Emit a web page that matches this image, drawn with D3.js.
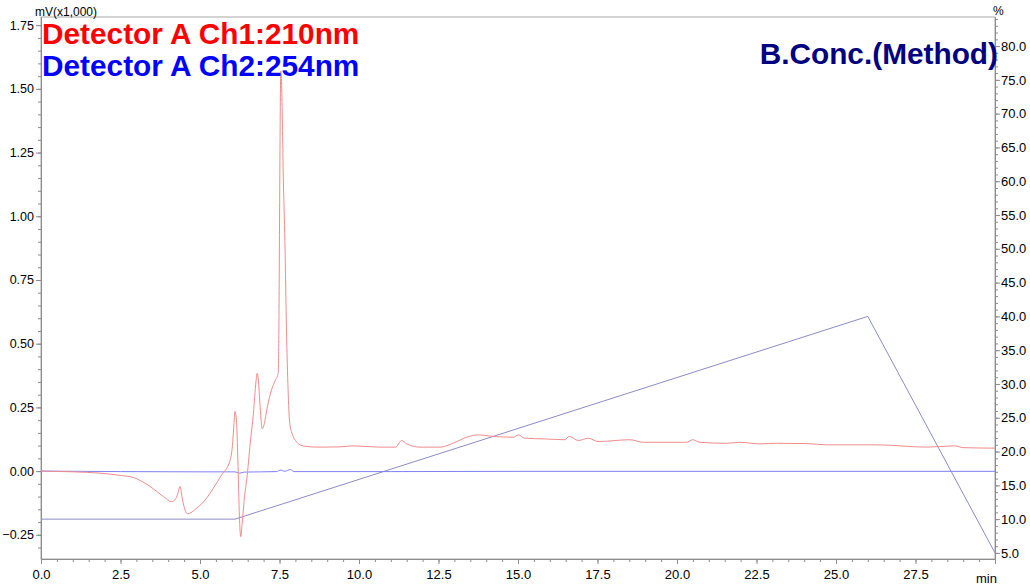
<!DOCTYPE html>
<html>
<head>
<meta charset="utf-8">
<script src="https://cdn.jsdelivr.net/npm/d3@7"></script>
<style>
    html, body { margin: 0; padding: 0; background: #fff; }
    svg { display: block; font-family: 'Liberation Sans', Arial, sans-serif; }
    .axis path, .axis line { stroke: #8c8c8c; }
    .axis text { fill: #000; }
</style>
</head>
<body>
<svg class="chart" width="1030" height="588"></svg>
<script>
// Detector A Ch1 (210nm), [min, mV x1000]
const ch1 = [
    [0, 0], [1.0, -0.003], [1.86, -0.008], [2.5, -0.017], [2.9, -0.025], [3.43, -0.06],
    [3.85, -0.1], [4.11, -0.12], [4.24, -0.108], [4.31, -0.085], [4.37, -0.06],
    [4.45, -0.113], [4.6, -0.168], [4.9, -0.145], [5.21, -0.106], [5.42, -0.067],
    [5.68, -0.015], [5.94, 0.04], [6.02, 0.1], [6.06, 0.17], [6.1, 0.234],
    [6.15, 0.19], [6.19, 0.05], [6.24, -0.18], [6.28, -0.257], [6.33, -0.2],
    [6.4, -0.1], [6.47, -0.034], [6.58, 0.11], [6.68, 0.227], [6.76, 0.35],
    [6.8, 0.384], [6.84, 0.35], [6.87, 0.292], [6.96, 0.166], [7.03, 0.19],
    [7.1, 0.24], [7.25, 0.319], [7.38, 0.36], [7.46, 0.384], [7.48, 0.55],
    [7.5, 0.95], [7.52, 1.35], [7.54, 1.57], [7.57, 1.5], [7.62, 1.15],
    [7.67, 0.9], [7.72, 0.55], [7.77, 0.32], [7.82, 0.19], [7.93, 0.136],
    [8.03, 0.116], [8.14, 0.103], [8.4, 0.096], [8.77, 0.094], [9.4, 0.095],
    [9.82, 0.099], [10.66, 0.094], [11.16, 0.094], [11.26, 0.11], [11.34, 0.12],
    [11.5, 0.107], [11.92, 0.094], [12.55, 0.094], [12.97, 0.11], [13.39, 0.133],
    [13.75, 0.142], [14.22, 0.136], [14.85, 0.133], [15.01, 0.142], [15.21, 0.129],
    [15.9, 0.126], [16.47, 0.123], [16.61, 0.136], [16.9, 0.12], [17.21, 0.129],
    [17.52, 0.116], [18.52, 0.123], [18.94, 0.113], [20.3, 0.113], [20.49, 0.123],
    [20.72, 0.113], [21.56, 0.109], [21.97, 0.113], [22.61, 0.107], [23.13, 0.109],
    [24.08, 0.108], [24.7, 0.103], [26.28, 0.103], [27.85, 0.094], [28.74, 0.099],
    [29.0, 0.092], [30.0, 0.09],
];

// Detector A Ch2 (254nm)
const ch2 = [
    [0, 0], [2.5, -0.002], [5.0, -0.003], [6.1, -0.003], [6.25, -0.008], [6.4, -0.004],
    [7.4, -0.002], [7.55, 0.004], [7.65, -0.001], [7.85, 0.006], [7.95, -0.002],
    [11.0, -0.002], [15.0, -0.001], [30.0, -0.001],
];

// B.Conc. gradient program, [min, %]
const gradient = [[0, 10], [6.1, 10], [26.0, 40], [30.0, 5]];

const xTicks = d3.range(0, 28, 2.5);
const yLeftTicks = d3.range(-0.25, 1.76, 0.25);
const yRightTicks = d3.range(5, 81, 5);

const svg = d3.select('.chart');
const margin = { top: 17, right: 35, bottom: 29, left: 41 };
const w = 1030;
const h = 588;

const x = d3.scaleLinear().domain([0, 30]).range([margin.left, w - margin.right]);
const yL = d3.scaleLinear().domain([-0.345, 1.782]).range([h - margin.bottom, margin.top]);
const yR = d3.scaleLinear().domain([4.1, 84.3]).range([h - margin.bottom, margin.top]);

// frame
svg.append('rect')
    .attr('x', margin.left)
    .attr('y', margin.top)
    .attr('width', w - margin.left - margin.right)
    .attr('height', h - margin.top - margin.bottom)
    .attr('fill', 'none')
    .attr('stroke', '#a8a8a8');

function minorAxis(axis, scale, values, len) {
    return axis(scale).tickValues(values).tickFormat('').tickSize(len).tickSizeOuter(0);
}

const bottom = h - margin.bottom;
const right = w - margin.right;

svg.append('g')
    .attr('class', 'axis')
    .attr('transform', `translate(0,${bottom})`)
    .call(minorAxis(d3.axisBottom, x, d3.range(0, 30.01, 0.5), 3));
svg.append('g')
    .attr('class', 'axis')
    .attr('transform', `translate(0,${bottom})`)
    .call(d3.axisBottom(x).tickValues(xTicks.concat([30])).tickSize(5).tickSizeOuter(0)
        .tickFormat((d) => (d === 30 ? '' : d3.format('.1f')(d))))
    .call((g) => g.selectAll('text').attr('font-size', 13).attr('dy', '0.95em'));

svg.append('g')
    .attr('class', 'axis')
    .attr('transform', `translate(${margin.left},0)`)
    .call(minorAxis(d3.axisLeft, yL, d3.range(-0.3, 1.76, 0.05), 3));
svg.append('g')
    .attr('class', 'axis')
    .attr('transform', `translate(${margin.left},0)`)
    .call(d3.axisLeft(yL).tickValues(yLeftTicks).tickSize(5).tickSizeOuter(0).tickFormat(d3.format('.2f')))
    .call((g) => g.selectAll('text').attr('font-size', 12.5).attr('x', -7));

svg.append('g')
    .attr('class', 'axis')
    .attr('transform', `translate(${right},0)`)
    .call(minorAxis(d3.axisRight, yR, d3.range(5, 84.1, 1), 3));
svg.append('g')
    .attr('class', 'axis')
    .attr('transform', `translate(${right},0)`)
    .call(d3.axisRight(yR).tickValues(yRightTicks).tickSize(5).tickSizeOuter(0).tickFormat(d3.format('.1f')))
    .call((g) => g.selectAll('text').attr('font-size', 13).attr('x', 6));

svg.selectAll('.axis .domain').attr('stroke', '#a8a8a8');

// unit labels
svg.append('text').attr('x', 35).attr('y', 16).attr('font-size', 12).text('mV(x1,000)');
svg.append('text').attr('x', 993).attr('y', 15).attr('font-size', 12).text('%');
svg.append('text').attr('x', 976).attr('y', 583).attr('font-size', 13).text('min');

// traces
const lineL = d3.line().x((d) => x(d[0])).y((d) => yL(d[1])).curve(d3.curveMonotoneX);
const lineR = d3.line().x((d) => x(d[0])).y((d) => yR(d[1]));

svg.append('path')
    .datum(gradient)
    .attr('d', lineR)
    .attr('fill', 'none')
    .attr('stroke', '#8c8cc8')
    .attr('stroke-width', 1);

svg.append('path')
    .datum(ch2)
    .attr('d', lineL)
    .attr('fill', 'none')
    .attr('stroke', '#8080f4')
    .attr('stroke-width', 1);

svg.append('path')
    .datum(ch1)
    .attr('d', lineL)
    .attr('fill', 'none')
    .attr('stroke', '#f08c8c')
    .attr('stroke-width', 1);

// legend titles
const titles = [
    ['Detector A Ch1:210nm', '#ff0000', 42, 44, 'start'],
    ['Detector A Ch2:254nm', '#0000ff', 42, 76, 'start'],
    ['B.Conc.(Method)', '#000080', 998, 64, 'end'],
];
svg.selectAll('.title')
    .data(titles)
    .enter()
    .append('text')
    .attr('class', 'title')
    .attr('x', (d) => d[2])
    .attr('y', (d) => d[3])
    .attr('text-anchor', (d) => d[4])
    .attr('fill', (d) => d[1])
    .attr('font-size', 29.8)
    .attr('font-weight', 'bold')
    .text((d) => d[0]);
</script>
</body>
</html>
